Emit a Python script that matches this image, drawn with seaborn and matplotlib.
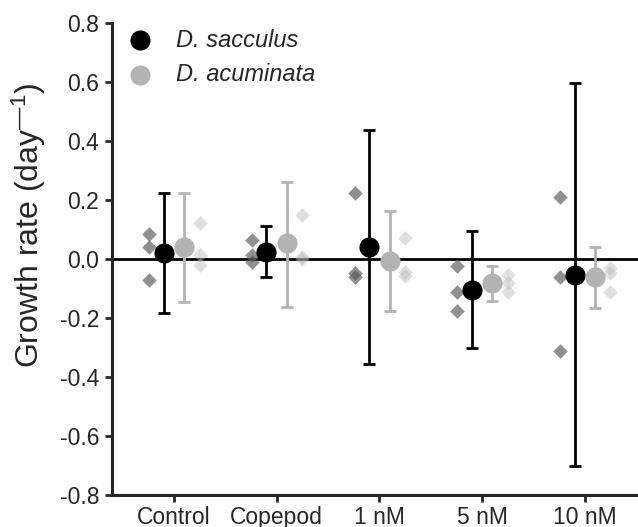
import numpy as np
import pandas as pd
import matplotlib
matplotlib.use("Agg")
import matplotlib.pyplot as plt
import seaborn as sns

# Datos
categorias = ["Control", "Copepod", "1 nM", "5 nM", "10 nM"]
especies = ["D. sacculus", "D. acuminata"]

sac_media = [0.020, 0.026, 0.041, -0.104, -0.053]
sac_sup = [0.223, 0.111, 0.438, 0.097, 0.597]
sac_inf = [-0.183, -0.061, -0.356, -0.300, -0.703]
sac_reps = [[0.086, 0.043, -0.071], [0.066, 0.014, -0.008], [0.223, -0.059, -0.047],
            [-0.023, -0.110, -0.177], [0.210, -0.062, -0.311]]

acu_media = [0.043, 0.054, -0.005, -0.082, -0.062]
acu_sup = [0.225, 0.263, 0.162, -0.023, 0.041]
acu_inf = [-0.144, -0.161, -0.177, -0.141, -0.166]
acu_reps = [[0.124, 0.014, -0.019], [0.151, 0.007, 0.000], [0.072, -0.042, -0.056],
            [-0.053, -0.082, -0.110], [-0.029, -0.047, -0.110]]

yticks = [-0.8, -0.6, -0.4, -0.2, 0.0, 0.2, 0.4, 0.6, 0.8]

sns.set_style("ticks")
plt.rcParams['font.family'] = ['Liberation Sans', 'DejaVu Sans']
plt.rcParams['mathtext.fontset'] = 'custom'
plt.rcParams['mathtext.rm'] = 'Liberation Sans'
plt.rcParams['mathtext.default'] = 'regular'
plt.rcParams['axes.unicode_minus'] = False

fig = plt.figure(figsize=(6.38, 5.27), dpi=100)
ax = fig.add_axes([0.175, 0.0607, 0.825, 0.895])

pos = np.arange(len(categorias))

# Réplicas (diamantes)
reps = pd.DataFrame({
    'x': np.concatenate([np.repeat(pos, 3) - 0.24, np.repeat(pos, 3) + 0.25]),
    'y': np.concatenate([np.ravel(sac_reps), np.ravel(acu_reps)]),
    'especie': [especies[0]] * 15 + [especies[1]] * 15,
})
sns.scatterplot(data=reps[reps.especie == especies[0]], x='x', y='y', marker='D', s=55,
                color='#555555', alpha=0.65, linewidth=0, ax=ax, zorder=2, legend=False)
sns.scatterplot(data=reps[reps.especie == especies[1]], x='x', y='y', marker='D', s=55,
                color='#b0b0b0', alpha=0.4, linewidth=0, ax=ax, zorder=2, legend=False)

# Medias con barras de error
colores = ['black', '#b3b3b3']
for i, (media, sup, inf, off) in enumerate([(sac_media, sac_sup, sac_inf, -0.1),
                                            (acu_media, acu_sup, acu_inf, 0.1)]):
    media = np.array(media)
    err = [media - np.array(inf), np.array(sup) - media]
    ax.errorbar(pos + off, media, yerr=err, fmt='none', ecolor=colores[i],
                elinewidth=2, capsize=4.3, capthick=2, zorder=3)
    sns.scatterplot(x=pos + off, y=media, color=colores[i], s=210, linewidth=0,
                    ax=ax, zorder=4, label=especies[i])

ax.axhline(0, color='black', lw=2, zorder=1)

ax.set_xlim(-0.607, 4.518)
ax.set_ylim(-0.8, 0.8)
ax.set_xticks(pos)
ax.set_xticklabels(categorias)
ax.set_yticks(yticks)
ax.set_yticklabels([f'{v:.1f}' for v in yticks])
ax.set_xlabel('')
ax.set_ylabel('Growth rate (day$^{\u2014 1}$)', fontsize=23)
ax.yaxis.set_label_coords(-0.121, 0.572)

for s in ['top', 'right']:
    ax.spines[s].set_visible(False)
for s in ['left', 'bottom']:
    ax.spines[s].set_linewidth(2.2)
ax.tick_params(axis='both', width=2, length=5, labelsize=16.5, pad=4)
ax.tick_params(axis='x', pad=3)

ax.legend(loc='upper left', bbox_to_anchor=(-0.031, 1.034), frameon=False,
          prop={'style': 'italic', 'size': 17}, handletextpad=0.5, labelspacing=0.5,
          markerscale=1.0)

fig.savefig('out.png', dpi=100)
